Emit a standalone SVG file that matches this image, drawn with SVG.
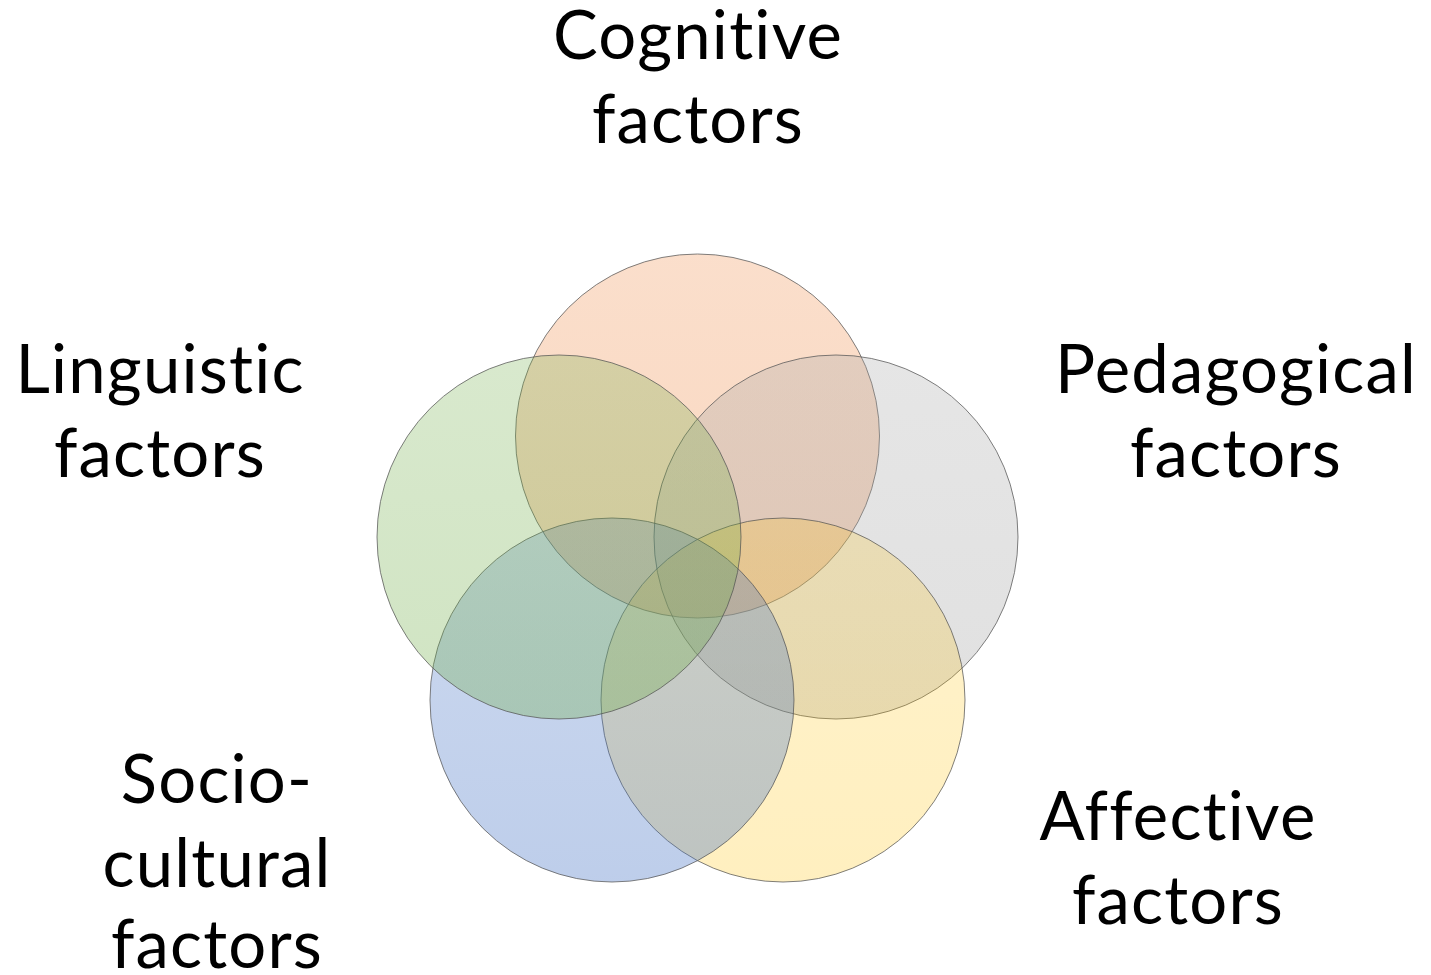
<svg xmlns="http://www.w3.org/2000/svg" width="1431" height="975" viewBox="0 0 1431 975">
  <style>
    .lbl { font-family: Lato, "Liberation Sans", sans-serif; font-size: 67px; fill: #000; text-anchor: middle; letter-spacing: 1.2px; font-variant-ligatures: none; font-feature-settings: "liga" 0, "clig" 0; }
    .disc { stroke: #555; stroke-opacity: 0.75; stroke-width: 1; }
  </style>
  <defs>
    <linearGradient id="gOrange" x1="0" y1="0" x2="0" y2="1">
      <stop offset="0" stop-color="#ED7D31" stop-opacity="0.25"/>
      <stop offset="1" stop-color="#ED7D31" stop-opacity="0.31"/>
    </linearGradient>
    <linearGradient id="gGray" x1="0" y1="0" x2="0" y2="1">
      <stop offset="0" stop-color="#A5A5A5" stop-opacity="0.28"/>
      <stop offset="1" stop-color="#A5A5A5" stop-opacity="0.34"/>
    </linearGradient>
    <linearGradient id="gGold" x1="0" y1="0" x2="0" y2="1">
      <stop offset="0" stop-color="#FFC000" stop-opacity="0.20"/>
      <stop offset="1" stop-color="#FFC000" stop-opacity="0.25"/>
    </linearGradient>
    <linearGradient id="gBlue" x1="0" y1="0" x2="0" y2="1">
      <stop offset="0" stop-color="#4472C4" stop-opacity="0.27"/>
      <stop offset="1" stop-color="#4472C4" stop-opacity="0.35"/>
    </linearGradient>
    <linearGradient id="gGreen" x1="0" y1="0" x2="0" y2="1">
      <stop offset="0" stop-color="#70AD47" stop-opacity="0.27"/>
      <stop offset="1" stop-color="#70AD47" stop-opacity="0.33"/>
    </linearGradient>
  </defs>

  <!-- overlapping circles, drawn clockwise from the top -->
  <g id="cognitive">
    <circle class="disc" cx="697.5" cy="436" r="182" fill="url(#gOrange)"/>
  </g>
  <g id="pedagogical">
    <circle class="disc" cx="836" cy="537" r="182" fill="url(#gGray)"/>
  </g>
  <g id="affective">
    <circle class="disc" cx="783" cy="700" r="182" fill="url(#gGold)"/>
  </g>
  <g id="sociocultural">
    <circle class="disc" cx="612" cy="700" r="182" fill="url(#gBlue)"/>
  </g>
  <g id="linguistic">
    <circle class="disc" cx="559" cy="537" r="182" fill="url(#gGreen)"/>
  </g>

  <!-- labels -->
  <g id="label-cognitive">
    <text class="lbl" x="698" y="59">Cognitive</text>
    <text class="lbl" x="698" y="143">factors</text>
  </g>
  <g id="label-pedagogical">
    <text class="lbl" x="1236" y="393">Pedagogical</text>
    <text class="lbl" x="1236" y="477">factors</text>
  </g>
  <g id="label-affective">
    <text class="lbl" x="1178" y="840">Affective</text>
    <text class="lbl" x="1178" y="924">factors</text>
  </g>
  <g id="label-sociocultural">
    <text class="lbl" x="217" y="803">Socio-</text>
    <text class="lbl" x="217" y="887">cultural</text>
    <text class="lbl" x="217" y="968">factors</text>
  </g>
  <g id="label-linguistic">
    <text class="lbl" x="160" y="393">Linguistic</text>
    <text class="lbl" x="160" y="477">factors</text>
  </g>
</svg>
